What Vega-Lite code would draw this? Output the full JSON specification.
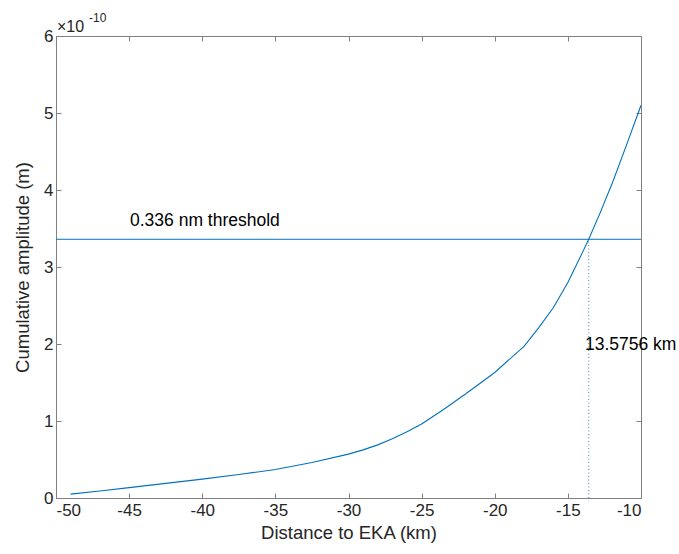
{
  "$schema": "https://vega.github.io/schema/vega-lite/v6.json",
  "width": 585,
  "height": 462,
  "autosize": {"type": "none"},
  "padding": {"left": 56, "top": 36, "right": 38, "bottom": 56},
  "background": "white",
  "config": {
    "view": {"stroke": "#808080", "strokeWidth": 1},
    "font": "Liberation Sans",
    "axis": {
      "grid": false,
      "domainColor": "#808080",
      "tickColor": "#808080",
      "tickSize": -5,
      "labelFont": "Liberation Sans",
      "titleFont": "Liberation Sans",
      "labelFontSize": 17,
      "titleFontSize": 18.5,
      "labelColor": "#262626",
      "titleColor": "#262626",
      "titleFontWeight": "normal"
    }
  },
  "datasets": {
    "curve": [
      {"d": -49, "a": 0.05},
      {"d": -47, "a": 0.09},
      {"d": -45, "a": 0.135},
      {"d": -42.5, "a": 0.19},
      {"d": -40, "a": 0.245},
      {"d": -37.5, "a": 0.305},
      {"d": -35, "a": 0.37},
      {"d": -32.5, "a": 0.46},
      {"d": -30, "a": 0.57},
      {"d": -29, "a": 0.625},
      {"d": -28, "a": 0.69},
      {"d": -27, "a": 0.77},
      {"d": -26, "a": 0.86},
      {"d": -25, "a": 0.96},
      {"d": -23.5, "a": 1.15},
      {"d": -22, "a": 1.35},
      {"d": -20, "a": 1.63},
      {"d": -18, "a": 1.97},
      {"d": -17, "a": 2.21},
      {"d": -16, "a": 2.47},
      {"d": -15, "a": 2.80},
      {"d": -14, "a": 3.19},
      {"d": -13.5756, "a": 3.36},
      {"d": -12.8, "a": 3.70},
      {"d": -11.9, "a": 4.12},
      {"d": -11, "a": 4.58},
      {"d": -10, "a": 5.1}
    ],
    "threshold": [{"a": 3.36}],
    "cross": [{"d": -13.5756, "a0": 0, "a": 3.36}],
    "labels": [
      {"d": -44.94, "a": 3.6, "t": "0.336 nm threshold"},
      {"d": -13.83, "a": 1.99, "t": "13.5756 km"}
    ],
    "expo": [{"d": -50, "a": 6}]
  },
  "layer": [
    {
      "data": {"name": "curve"},
      "mark": {"type": "line", "color": "#0072BD", "strokeWidth": 1.1, "clip": true},
      "encoding": {
        "x": {"field": "d", "type": "quantitative", "scale": {"domain": [-50, -10], "nice": false},
          "axis": {"title": "Distance to EKA (km)", "values": [-50,-45,-40,-35,-30,-25,-20,-15,-10], "labelExpr": "'' + datum.value", "labelPadding": 9, "titlePadding": 5}},
        "y": {"field": "a", "type": "quantitative", "scale": {"domain": [0, 6], "nice": false},
          "axis": {"title": "Cumulative amplitude (m)", "values": [0,1,2,3,4,5,6], "labelPadding": 8, "titlePadding": 11}}
      }
    },
    {
      "data": {"name": "curve"},
      "mark": {"type": "point", "opacity": 0},
      "encoding": {
        "x": {"field": "d", "type": "quantitative", "axis": {"orient": "top", "labels": false, "title": null, "domain": false, "values": [-50,-45,-40,-35,-30,-25,-20,-15,-10]}},
        "y": {"field": "a", "type": "quantitative", "axis": {"orient": "right", "labels": false, "title": null, "domain": false, "values": [0,1,2,3,4,5,6]}}
      }
    },
    {
      "data": {"name": "threshold"},
      "mark": {"type": "rule", "color": "#0072BD", "strokeWidth": 1},
      "encoding": {"y": {"field": "a", "type": "quantitative", "axis": null}}
    },
    {
      "data": {"name": "cross"},
      "mark": {"type": "rule", "color": "#0072BD", "strokeWidth": 1, "opacity": 0.8, "strokeDash": [1, 2.5]},
      "encoding": {
        "x": {"field": "d", "type": "quantitative", "axis": null},
        "y": {"field": "a0", "type": "quantitative", "axis": null},
        "y2": {"field": "a"}
      }
    },
    {
      "data": {"name": "labels"},
      "mark": {"type": "text", "align": "left", "baseline": "middle", "fontSize": 17.5, "color": "#000000", "font": "Liberation Sans"},
      "encoding": {
        "x": {"field": "d", "type": "quantitative", "axis": null},
        "y": {"field": "a", "type": "quantitative", "axis": null},
        "text": {"field": "t"}
      }
    },
    {
      "data": {"name": "expo"},
      "mark": {"type": "text", "align": "left", "baseline": "alphabetic", "fontSize": 16, "dy": -4, "dx": 1, "color": "#262626", "font": "Liberation Sans"},
      "encoding": {
        "x": {"field": "d", "type": "quantitative", "axis": null},
        "y": {"field": "a", "type": "quantitative", "axis": null},
        "text": {"value": "×10"}
      }
    },
    {
      "data": {"name": "expo"},
      "mark": {"type": "text", "align": "left", "baseline": "alphabetic", "fontSize": 12, "dy": -14, "dx": 33, "color": "#262626", "font": "Liberation Sans"},
      "encoding": {
        "x": {"field": "d", "type": "quantitative", "axis": null},
        "y": {"field": "a", "type": "quantitative", "axis": null},
        "text": {"value": "-10"}
      }
    }
  ],
  "resolve": {"axis": {"x": "independent", "y": "independent"}}
}
